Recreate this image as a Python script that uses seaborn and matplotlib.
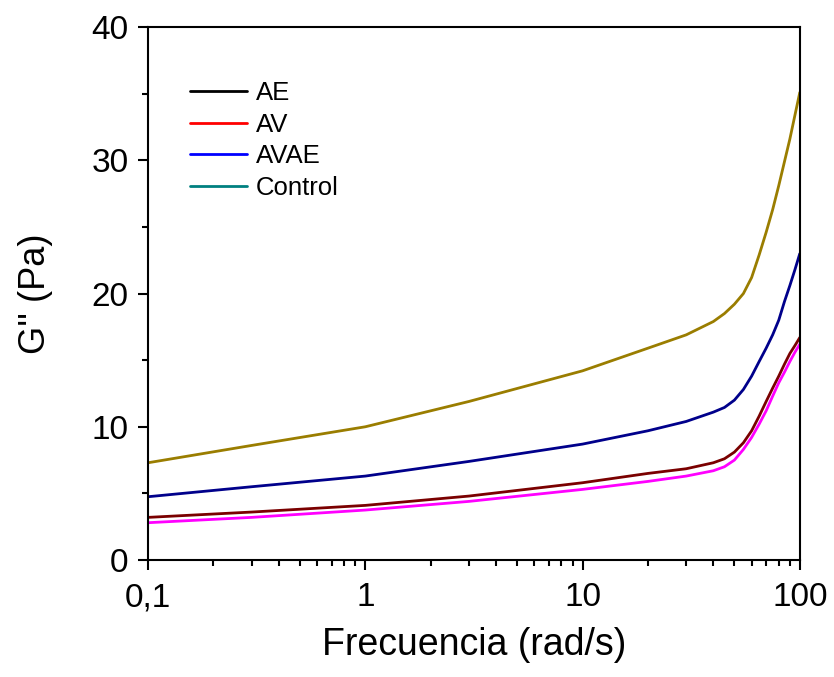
import pandas as pd
import seaborn as sns
import matplotlib.pyplot as plt
from matplotlib.lines import Line2D
from matplotlib.ticker import FixedLocator, FuncFormatter, LogLocator

# datos
frecuencia = [0.1, 0.3, 1, 3, 10, 20, 30, 40, 45, 50, 55, 60, 65, 70, 75, 80, 85, 90, 95, 100]
g_ae = [3.2, 3.6, 4.1, 4.8, 5.8, 6.5, 6.85, 7.3, 7.6, 8.1, 8.8, 9.7, 10.8, 11.9, 12.9, 13.8, 14.7, 15.5, 16.1, 16.7]
g_av = [2.8, 3.2, 3.75, 4.4, 5.3, 5.9, 6.3, 6.7, 7.0, 7.5, 8.3, 9.2, 10.2, 11.2, 12.3, 13.3, 14.1, 14.9, 15.6, 16.2]
g_avae = [4.75, 5.5, 6.3, 7.4, 8.7, 9.7, 10.4, 11.1, 11.45, 12.0, 12.8, 13.8, 14.9, 15.9, 16.9, 18.0, 19.4, 20.6, 21.8, 23.0]
g_control = [7.3, 8.6, 10.0, 11.9, 14.2, 15.9, 16.9, 17.9, 18.5, 19.2, 20.0, 21.2, 22.9, 24.6, 26.3, 28.1, 29.9, 31.6, 33.4, 35.1]

muestras = ["AE", "AV", "AVAE", "Control"]
colores_linea = {"AE": "#7a0000", "AV": "#ff00ff", "AVAE": "#00008b", "Control": "#9a7d00"}
colores_leyenda = ["#000000", "#ff0000", "#0000ff", "#008080"]

df = pd.DataFrame({
    "frecuencia": frecuencia * 4,
    "G": g_ae + g_av + g_avae + g_control,
    "muestra": sum([[m] * len(frecuencia) for m in muestras], []),
})

sns.set_style("ticks")
plt.rcParams["font.family"] = ["Liberation Sans", "DejaVu Sans"]
plt.rcParams["text.color"] = "black"
plt.rcParams["axes.labelcolor"] = "black"
plt.rcParams["xtick.color"] = "black"
plt.rcParams["ytick.color"] = "black"
plt.rcParams["axes.edgecolor"] = "black"

fig = plt.figure(figsize=(8.34, 6.77), dpi=100)
ax = fig.add_axes([0.1775, 0.1728, 0.7815, 0.7872])

sns.lineplot(data=df, x="frecuencia", y="G", hue="muestra", palette=colores_linea,
             linewidth=2, ax=ax, legend=False)

ax.set_xscale("log")
ax.set_xlim(0.1, 100)
ax.set_ylim(0, 40)
ax.xaxis.set_major_locator(FixedLocator([0.1, 1, 10, 100]))
ax.xaxis.set_major_formatter(FuncFormatter(lambda v, p: ("%g" % v).replace(".", ",")))
ax.xaxis.set_minor_locator(LogLocator(base=10, subs=range(2, 10)))
ax.set_yticks([0, 10, 20, 30, 40])
ax.set_yticks([5, 15, 25, 35], minor=True)

ax.tick_params(axis="both", which="major", direction="out", length=7, width=1.5,
               labelsize=24)
ax.tick_params(axis="x", which="major", pad=9)
ax.tick_params(axis="y", which="major", pad=7)
ax.tick_params(axis="both", which="minor", direction="out", length=4.5, width=1.5)
for s in ax.spines.values():
    s.set_linewidth(1.5)

ax.set_xlabel("Frecuencia (rad/s)", fontsize=27, labelpad=10)
ax.set_ylabel("G'' (Pa)", fontsize=26, labelpad=28)

handles = [Line2D([0], [0], color=c, lw=2) for c in colores_leyenda]
ax.legend(handles, muestras, frameon=False, fontsize=18.5, loc="upper left",
          bbox_to_anchor=(0.049, 0.918), handlelength=2.2, labelspacing=0.3,
          handletextpad=0.35, borderaxespad=0)

plt.savefig("out.png", dpi=100)
